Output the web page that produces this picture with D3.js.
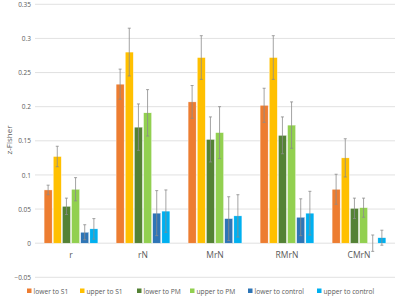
<!DOCTYPE html>
<html>
<head>
<meta charset="utf-8">
<script src="https://cdn.jsdelivr.net/npm/d3@7"></script>
<style>
  body { margin: 0; background: #fff; }
  svg text { font-family: "Open Sans", "Liberation Sans", sans-serif; fill: #595959; }
</style>
</head>
<body>
<div class="container"></div>
<script>
const WIDTH = 400;
const HEIGHT = 300;

var categories = ["r", "rN", "MrN", "RMrN", "CMrN"];
var seriesNames = ["lower to S1", "upper to S1", "lower to PM", "upper to PM", "lower to control", "upper to control"];
var colors = ["#ED7D31", "#FFC000", "#548235", "#92D050", "#2E75B6", "#00B0F0"];
var yTicks = [-0.05, 0, 0.05, 0.1, 0.15, 0.2, 0.25, 0.3, 0.35];

// values per series, one entry per category
var lowerS1 = [0.078, 0.233, 0.207, 0.202, 0.079];
var upperS1 = [0.127, 0.280, 0.272, 0.272, 0.125];
var lowerPM = [0.054, 0.170, 0.152, 0.158, 0.051];
var upperPM = [0.079, 0.191, 0.162, 0.173, 0.052];
var lowerCtrl = [0.016, 0.044, 0.036, 0.038, 0.000];
var upperCtrl = [0.021, 0.047, 0.040, 0.044, 0.008];

// error (+/-) per series
var errLowerS1 = [0.007, 0.022, 0.024, 0.025, 0.022];
var errUpperS1 = [0.015, 0.035, 0.032, 0.032, 0.028];
var errLowerPM = [0.012, 0.034, 0.033, 0.027, 0.015];
var errUpperPM = [0.017, 0.034, 0.038, 0.034, 0.014];
var errLowerCtrl = [0.011, 0.033, 0.032, 0.027, 0.012];
var errUpperCtrl = [0.015, 0.031, 0.031, 0.032, 0.011];

var values = [lowerS1, upperS1, lowerPM, upperPM, lowerCtrl, upperCtrl];
var errors = [errLowerS1, errUpperS1, errLowerPM, errUpperPM, errLowerCtrl, errUpperCtrl];

var translate = function(x, y) {
    return `translate(${x},${y})`;
};

var svg = d3.select('.container').append('svg')
    .attr('width', WIDTH)
    .attr('height', HEIGHT);

let xScale = d3.scaleBand()
    .domain(categories)
    .range([35, 395])
    .paddingInner(0.222)
    .paddingOuter(0.111);

let inner = d3.scaleBand()
    .domain(d3.range(seriesNames.length))
    .range([0, xScale.bandwidth()])
    .padding(0.12);

let yScale = d3.scaleLinear()
    .domain([-0.05, 0.35])
    .range([277.3, 4.3]);

// gridlines
svg.append('g')
    .selectAll('line').data(yTicks).enter()
    .append('line')
    .attr('x1', 35).attr('x2', 395)
    .attr('y1', d => yScale(d)).attr('y2', d => yScale(d))
    .attr('stroke', '#d9d9d9')
    .attr('stroke-width', 0.8);

// y axis labels
let yAxis = d3.axisLeft(yScale).tickValues(yTicks).tickSize(0).tickPadding(0)
    .tickFormat(d => d3.format('')(+d.toFixed(2)));
var yg = svg.append('g')
    .attr('transform', translate(31, 0))
    .call(yAxis);
yg.select('.domain').remove();
yg.selectAll('text').attr('font-size', 6.5).attr('fill', '#595959')
    .attr('font-family', '"Open Sans", sans-serif');

// y axis title
svg.append('text')
    .attr('transform', translate(12, 140) + ' rotate(-90)')
    .attr('text-anchor', 'middle')
    .attr('font-size', 8)
    .text('z-Fisher');

// bars
var groups = svg.selectAll('.series').data(values).enter()
    .append('g')
    .classed('series', true);

groups.each(function(vals, si) {
    var g = d3.select(this);
    g.selectAll('rect').data(vals).enter()
        .append('rect')
        .attr('x', (d, ci) => xScale(categories[ci]) + inner(si))
        .attr('y', d => yScale(Math.max(d, 0)))
        .attr('width', inner.bandwidth())
        .attr('height', d => Math.abs(yScale(d) - yScale(0)))
        .attr('fill', colors[si])
        .attr('stroke', '#fff')
        .attr('stroke-width', 0.4);
});

// error bars
groups.each(function(vals, si) {
    var g = d3.select(this);
    var errs = errors[si];
    vals.forEach(function(v, ci) {
        var cx = xScale(categories[ci]) + inner(si) + inner.bandwidth() / 2;
        var top = yScale(v + errs[ci]);
        var bot = yScale(v - errs[ci]);
        g.append('line')
            .attr('x1', cx).attr('x2', cx)
            .attr('y1', top).attr('y2', bot)
            .attr('stroke', '#8c8c8c').attr('stroke-width', 0.8);
        [top, bot].forEach(function(y) {
            g.append('line')
                .attr('x1', cx - 1.5).attr('x2', cx + 1.5)
                .attr('y1', y).attr('y2', y)
                .attr('stroke', '#8c8c8c').attr('stroke-width', 0.8);
        });
    });
});

// category labels
svg.append('g').selectAll('text').data(categories).enter()
    .append('text')
    .attr('x', d => xScale(d) + xScale.bandwidth() / 2)
    .attr('y', 258)
    .attr('text-anchor', 'middle')
    .attr('font-size', 8.5)
    .text(d => d);

// legend
var legendX = [27, 80, 137, 190, 248, 317];
var legend = svg.append('g').selectAll('g').data(seriesNames).enter()
    .append('g')
    .attr('transform', (d, i) => translate(legendX[i], 291));
legend.append('rect')
    .attr('x', 0).attr('y', -2.5)
    .attr('width', 4.5).attr('height', 4.5)
    .attr('fill', (d, i) => colors[i]);
legend.append('text')
    .attr('x', 6.5).attr('y', 2.6)
    .attr('font-size', 6.7)
    .text(d => d);
</script>
</body>
</html>
